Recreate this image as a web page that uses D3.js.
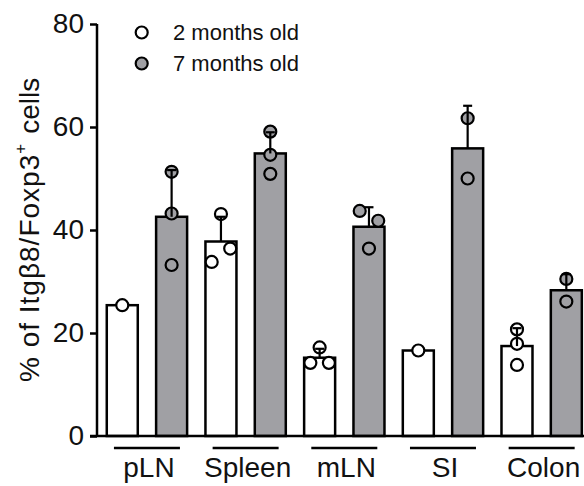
<!DOCTYPE html>
<html>
<head>
<meta charset="utf-8">
<script src="https://cdn.jsdelivr.net/npm/d3@7"></script>
<style>
  html, body { margin: 0; padding: 0; background: #fff; }
  svg { display: block; font-family: "Liberation Sans", Arial, Helvetica, sans-serif; }
</style>
</head>
<body>
<svg id="chart" width="584" height="486"></svg>
<script>
// ---- data ----
const categories = ["pLN", "Spleen", "mLN", "SI", "Colon"];
const seriesNames = ["2 months old", "7 months old"];
const points2mo = [[25.4], [43.1, 33.8, 36.4], [17.2, 14.2, 14.2], [16.6], [20.7, 17.9, 13.8]];
const points7mo = [[51.3, 43.2, 33.2], [59.1, 54.6, 50.9], [43.7, 41.8, 36.4], [61.7, 50.0], [30.5, 26.1]];
const yTicks = [0, 20, 40, 60, 80];
const seriesFill = ["#ffffff", "#a0a0a4"];

// ---- layout ----
const svg = d3.select("#chart");
const W = 584, H = 486;
const axisX = 97, y0 = 436, yTop = 24;

const y = d3.scaleLinear().domain([0, 80]).range([y0, yTop]);
const x = d3.scaleBand().domain(categories).range([97.6, 591]).padding(0);
const xs = d3.scalePoint().domain(seriesNames).range([0, x.bandwidth()]).padding(0.5);
const barW = 31;
const r = 6;

const allPoints = [points2mo, points7mo];
const rows = [];
categories.forEach((c, ci) => {
  seriesNames.forEach((s, si) => {
    const vals = allPoints[si][ci];
    const mean = d3.mean(vals);
    const sd = vals.length > 1 ? d3.deviation(vals) : 0;
    rows.push({ cat: c, ser: s, si, vals, mean, sd, cx: x(c) + xs(s) });
  });
});

// bars
svg.append("g").selectAll("rect").data(rows).join("rect")
  .attr("x", d => d.cx - barW / 2)
  .attr("y", d => y(d.mean))
  .attr("width", barW)
  .attr("height", d => y(0) - y(d.mean))
  .attr("fill", d => seriesFill[d.si])
  .attr("stroke", "#000")
  .attr("stroke-width", 2.5);

// points with collision spreading (in data order)
const spread = 18.5;
const pts = [];
rows.forEach(d => {
  const items = d.vals.map((v, i) => ({ v, i, py: y(v) }));
  const sorted = items.slice().sort((a, b) => a.v - b.v);
  const clusters = [];
  sorted.forEach(p => {
    const last = clusters[clusters.length - 1];
    if (last && Math.abs(last[last.length - 1].py - p.py) < 2 * r + 2) last.push(p);
    else clusters.push([p]);
  });
  clusters.forEach(cl => {
    cl.sort((a, b) => a.i - b.i);
    cl.forEach((p, k) => {
      pts.push({ x: d.cx + (k - (cl.length - 1) / 2) * spread, y: p.py, si: d.si });
    });
  });
});
svg.append("g").selectAll("circle").data(pts).join("circle")
  .attr("cx", d => d.x).attr("cy", d => d.y).attr("r", r)
  .attr("fill", d => seriesFill[d.si])
  .attr("stroke", "#000").attr("stroke-width", 2.2);

// error bars (upper only)
const eb = svg.append("g").attr("stroke", "#000").attr("stroke-width", 2.2);
rows.filter(d => d.vals.length > 1).forEach(d => {
  eb.append("line").attr("x1", d.cx).attr("x2", d.cx)
    .attr("y1", y(d.mean)).attr("y2", y(d.mean + d.sd));
  eb.append("line").attr("x1", d.cx - 4.5).attr("x2", d.cx + 4.5)
    .attr("y1", y(d.mean + d.sd)).attr("y2", y(d.mean + d.sd));
});

// y axis
const yAxis = svg.append("g").attr("transform", `translate(${axisX},0)`)
  .call(d3.axisLeft(y).tickValues(yTicks).tickSize(7).tickPadding(6).tickFormat(d3.format("d")));
yAxis.select(".domain").attr("stroke", "#000").attr("stroke-width", 2.5)
  .attr("d", `M0,${yTop}V${y0}`);
yAxis.selectAll(".tick line").attr("stroke", "#000").attr("stroke-width", 2.5);
yAxis.selectAll(".tick text").attr("font-size", 28).attr("fill", "#111")
  .attr("font-family", "Liberation Sans, Arial, sans-serif");

// x axis line
svg.append("line").attr("x1", 90).attr("x2", W).attr("y1", y0).attr("y2", y0)
  .attr("stroke", "#000").attr("stroke-width", 2.5);

// category underlines + labels
const gx = svg.append("g");
categories.forEach(c => {
  const cx = x(c) + x.bandwidth() / 2;
  gx.append("line").attr("x1", cx - 33).attr("x2", cx + 33)
    .attr("y1", 448).attr("y2", 448).attr("stroke", "#000").attr("stroke-width", 2.5);
  gx.append("text").attr("x", cx + 2).attr("y", 477).attr("text-anchor", "middle")
    .attr("font-size", 28).attr("fill", "#111").text(c);
});

// y label
const yl = svg.append("text")
  .attr("transform", `translate(39,382) rotate(-90)`)
  .attr("text-anchor", "start").attr("font-size", 28).attr("fill", "#111");
yl.append("tspan").attr("letter-spacing", 1).text("% of Itgβ8/Foxp3");
yl.append("tspan").attr("font-size", 17).attr("dy", -13).text("+");
yl.append("tspan").attr("dy", 13).attr("dx", 10).text("cells");

// legend
const leg = svg.append("g");
seriesNames.forEach((s, i) => {
  const ly = 32.5 + i * 31;
  leg.append("circle").attr("cx", 141.7).attr("cy", ly).attr("r", r)
    .attr("fill", seriesFill[i]).attr("stroke", "#000").attr("stroke-width", 2.2);
  leg.append("text").attr("x", 173).attr("y", ly + 5).attr("dy", "0.1em")
    .attr("font-size", 22).attr("fill", "#111").text(s);
});
</script>
</body>
</html>
